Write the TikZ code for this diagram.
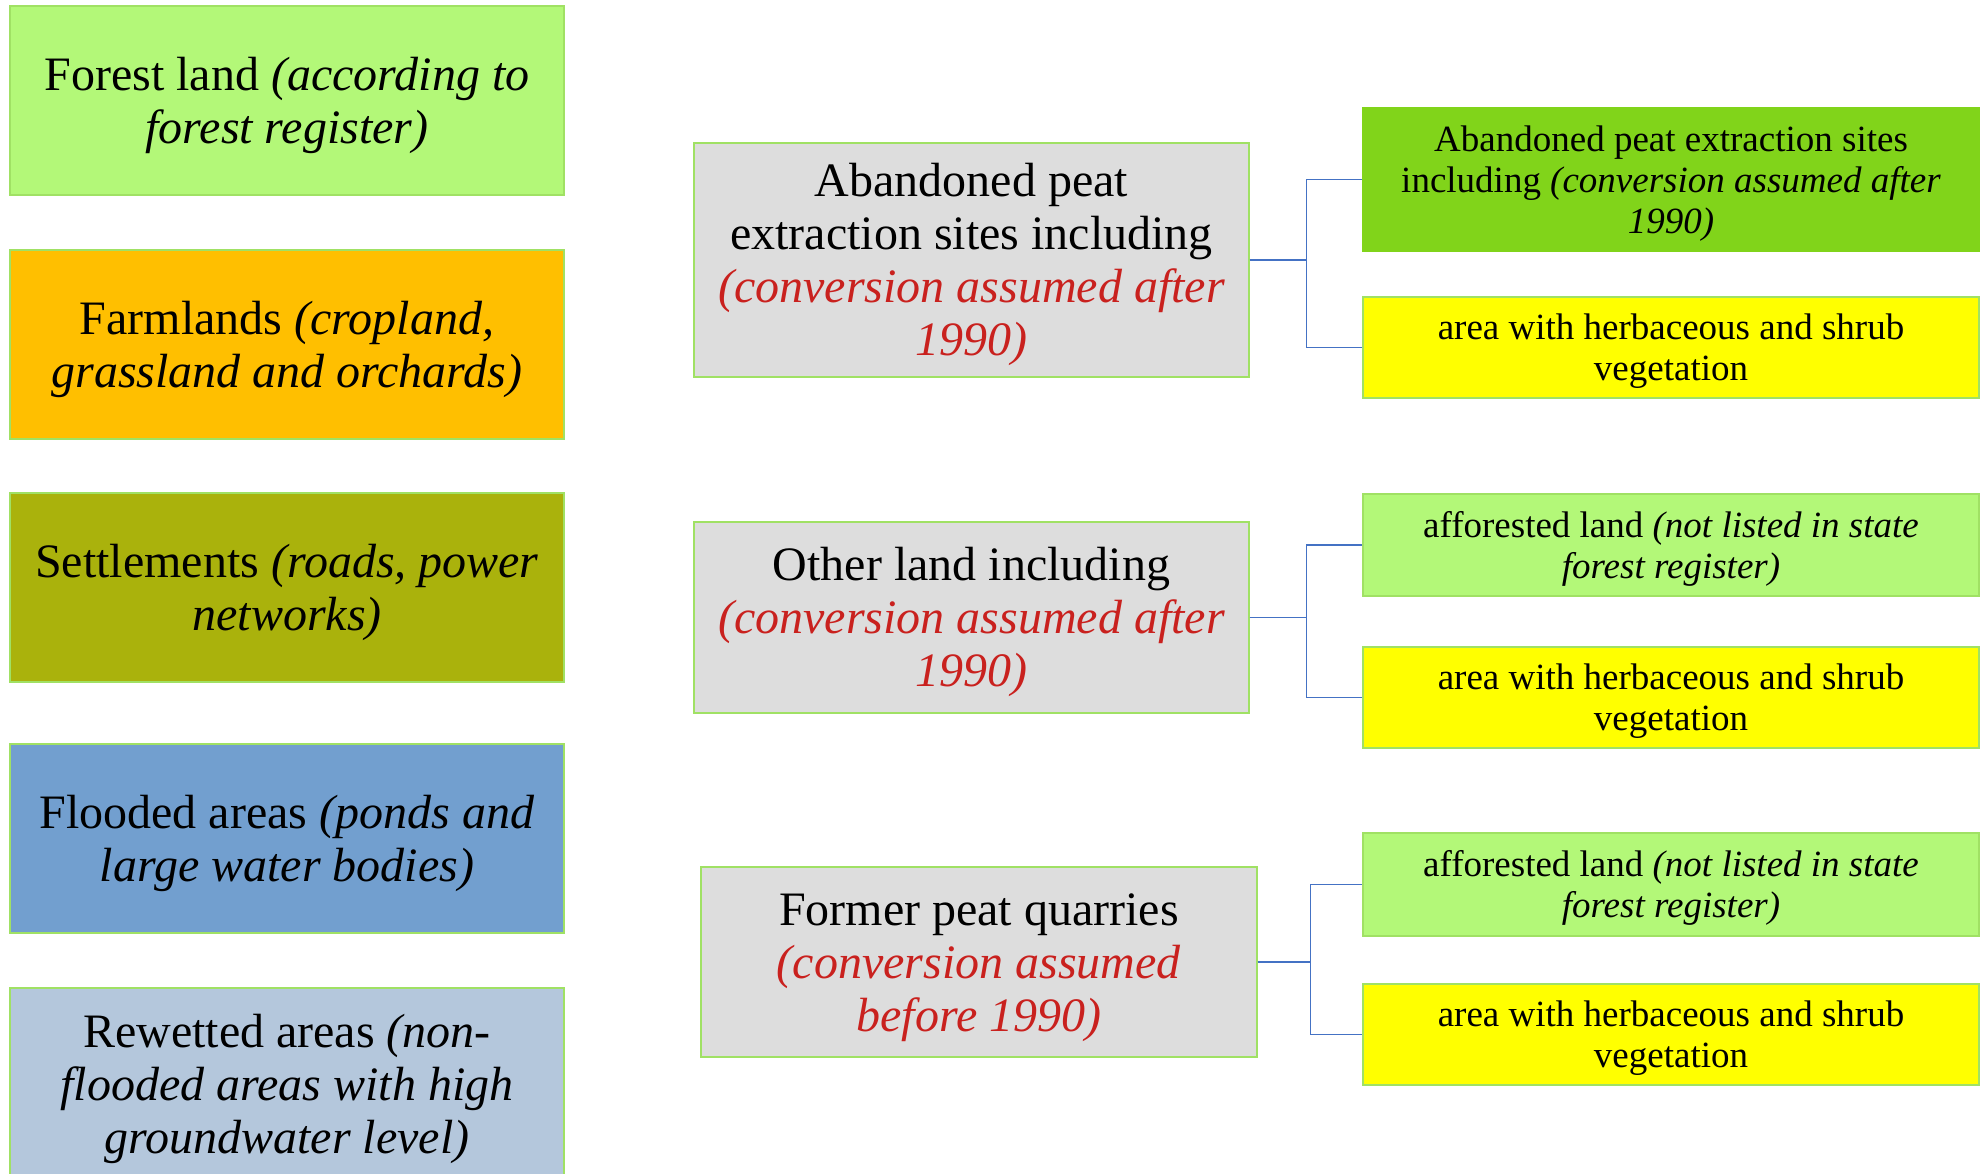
\documentclass[tikz,border=0pt]{standalone}
\usepackage{fontspec}
\setmainfont{Liberation Serif}
\usepackage{tikz}
\definecolor{forestgreen}{RGB}{179,248,120}
\definecolor{farmorange}{RGB}{255,191,0}
\definecolor{settleolive}{RGB}{170,178,12}
\definecolor{floodblue}{RGB}{114,159,207}
\definecolor{rewetblue}{RGB}{180,199,220}
\definecolor{boxgray}{RGB}{221,221,221}
\definecolor{sitegreen}{RGB}{129,212,26}
\definecolor{herbyellow}{RGB}{255,255,0}
\definecolor{edgegreen}{RGB}{160,225,100}
\definecolor{notered}{RGB}{201,33,30}
\definecolor{linkblue}{RGB}{68,114,196}
\newcommand{\boxstrut}{\rule{0pt}{0.891em}}

\begin{document}
\begin{tikzpicture}[x=1pt,y=-1pt,
    catbox/.style={draw=edgegreen,line width=1.2pt,inner sep=0pt,
        minimum width=554pt,minimum height=189pt,align=center,
        font=\fontsize{48}{53}\selectfont},
    mainbox/.style={catbox,fill=boxgray,minimum width=555pt},
    subbox/.style={draw=edgegreen,line width=1.2pt,inner sep=0pt,
        minimum width=616pt,minimum height=101pt,align=center,
        font=\fontsize{37}{41}\selectfont},
    link/.style={linkblue,line width=1.2pt}]
        \useasboundingbox (0,0) rectangle (1988,1174);

        % Land use categories
        \node [catbox,fill=forestgreen] (forest) at (287,100.5)
            {\boxstrut Forest land \textit{(according to}\\\textit{forest register)}};
        \node [catbox,fill=farmorange] (farm) at (287,344.5)
            {\boxstrut Farmlands \textit{(cropland,}\\\textit{grassland and orchards)}};
        \node [catbox,fill=settleolive] (settle) at (287,587.5)
            {\boxstrut Settlements \textit{(roads, power}\\\textit{networks)}};
        \node [catbox,fill=floodblue] (flood) at (287,838.5)
            {\boxstrut Flooded areas \textit{(ponds and}\\\textit{large water bodies)}};
        \node [catbox,fill=rewetblue,minimum height=192pt] (rewet) at (287,1084)
            {\boxstrut Rewetted areas \textit{(non-}\\\textit{flooded areas with high}\\
            \textit{groundwater level)}};

        % Peat site types
        \node [mainbox,minimum height=234pt] (abandon) at (971.5,260)
            {\boxstrut Abandoned peat\\extraction sites including\\
            \textcolor{notered}{\textit{(conversion assumed after}}\\
            \textcolor{notered}{\textit{1990)}}};
        \node [mainbox,minimum height=191pt] (other) at (971.5,617.5)
            {\boxstrut Other land including\\
            \textcolor{notered}{\textit{(conversion assumed after}}\\
            \textcolor{notered}{\textit{1990)}}};
        \node [mainbox,minimum width=556pt,minimum height=190pt] (quarry) at (979,962)
            {\boxstrut Former peat quarries\\
            \textcolor{notered}{\textit{(conversion assumed}}\\
            \textcolor{notered}{\textit{before 1990)}}};

        % Sub-categories
        \node [subbox,fill=sitegreen,draw=sitegreen,minimum height=143pt] (peatsite) at (1671,179.5)
            {\boxstrut Abandoned peat extraction sites\\including \textit{(conversion assumed after}\\
            \textit{1990)}};
        \node [subbox,fill=herbyellow] (herb1) at (1671,347.5)
            {\boxstrut area with herbaceous and shrub\\vegetation};
        \node [subbox,fill=forestgreen,minimum height=102pt] (affor1) at (1671,545)
            {\boxstrut afforested land \textit{(not listed in state}\\\textit{forest register)}};
        \node [subbox,fill=herbyellow] (herb2) at (1671,697.5)
            {\boxstrut area with herbaceous and shrub\\vegetation};
        \node [subbox,fill=forestgreen,minimum height=103pt] (affor2) at (1671,884.5)
            {\boxstrut afforested land \textit{(not listed in state}\\\textit{forest register)}};
        \node [subbox,fill=herbyellow] (herb3) at (1671,1034.5)
            {\boxstrut area with herbaceous and shrub\\vegetation};

        % Links
        \draw [link] (abandon.east) -- ++(57,0) |- (peatsite.west);
        \draw [link] (abandon.east) -- ++(57,0) |- (herb1.west);
        \draw [link] (other.east) -- ++(57,0) |- (affor1.west);
        \draw [link] (other.east) -- ++(57,0) |- (herb2.west);
        \draw [link] (quarry.east) -- ++(53,0) |- (affor2.west);
        \draw [link] (quarry.east) -- ++(53,0) |- (herb3.west);
\end{tikzpicture}
\end{document}
